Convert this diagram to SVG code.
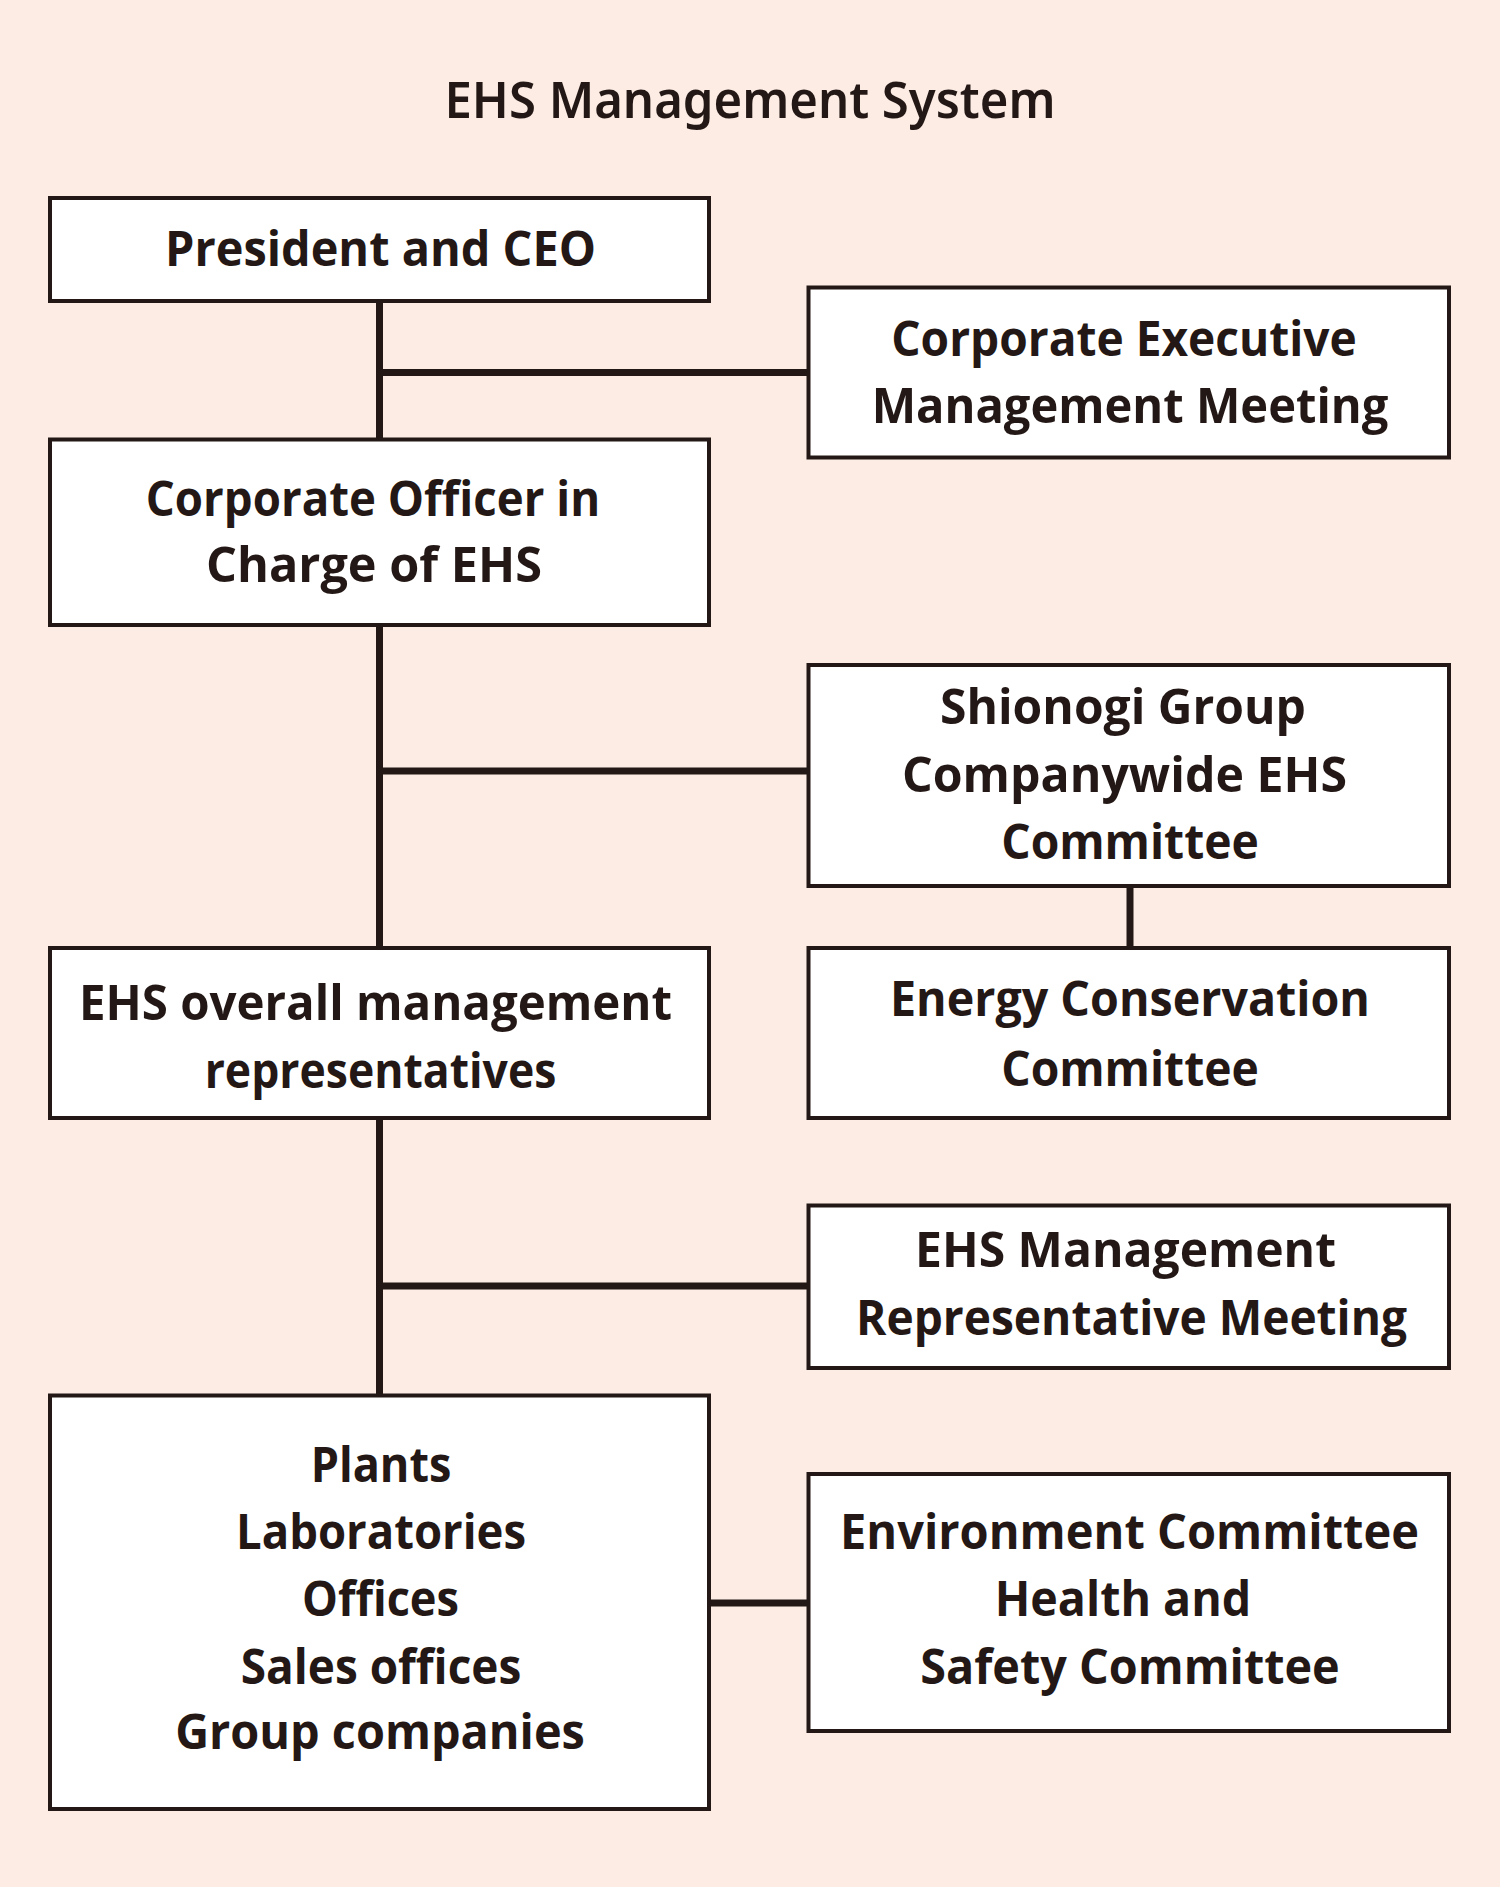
<svg xmlns="http://www.w3.org/2000/svg" width="1500" height="1887" viewBox="0 0 1500 1887">
<style>
.bg{fill:#FDECE4}
.box{fill:#FFFFFF;stroke:#231815;stroke-width:4}
.ln{stroke:#231815;stroke-width:7;fill:none;stroke-linecap:butt}
.t{font-family:"Open Sans","Noto Sans","Liberation Sans",sans-serif;font-weight:700;font-size:49px;fill:#231815;text-anchor:middle}
.title{font-family:"Noto Sans","Open Sans","Liberation Sans",sans-serif;font-weight:600;font-size:50px;fill:#231815;text-anchor:middle}
</style>
<rect class="bg" x="0" y="0" width="1500" height="1887"/>
<text class="title" x="750" y="118" textLength="611" lengthAdjust="spacingAndGlyphs">EHS Management System</text>
<g id="connectors">
<line class="ln" x1="379.5" y1="300" x2="379.5" y2="440"/>
<line class="ln" x1="379.5" y1="372.5" x2="809" y2="372.5"/>
<line class="ln" x1="379.5" y1="624" x2="379.5" y2="949"/>
<line class="ln" x1="379.5" y1="771" x2="809" y2="771"/>
<line class="ln" x1="379.5" y1="1117" x2="379.5" y2="1396"/>
<line class="ln" x1="379.5" y1="1286" x2="809" y2="1286"/>
<line class="ln" x1="1130" y1="885" x2="1130" y2="949"/>
<line class="ln" x1="709" y1="1603" x2="809" y2="1603" stroke-width="7.5"/>
</g>
<g id="president">
<rect class="box" x="50" y="198" width="659" height="103"/>
<text class="t" x="380.5" y="265.5" textLength="431" lengthAdjust="spacingAndGlyphs">President and CEO</text>
</g>
<g id="exec-meeting">
<rect class="box" x="808.5" y="287.5" width="640.5" height="170"/>
<text class="t" x="1124" y="356" textLength="465.5" lengthAdjust="spacingAndGlyphs">Corporate Executive</text>
<text class="t" x="1130" y="423" textLength="516.7" lengthAdjust="spacingAndGlyphs">Management Meeting</text>
</g>
<g id="officer">
<rect class="box" x="50" y="439.5" width="659" height="185.5"/>
<text class="t" x="373" y="516" textLength="454.5" lengthAdjust="spacingAndGlyphs">Corporate Officer in</text>
<text class="t" x="374" y="582" textLength="336" lengthAdjust="spacingAndGlyphs">Charge of EHS</text>
</g>
<g id="shionogi-committee">
<rect class="box" x="808.5" y="665" width="640.5" height="221"/>
<text class="t" x="1123" y="724" textLength="366" lengthAdjust="spacingAndGlyphs">Shionogi Group</text>
<text class="t" x="1124.5" y="792" textLength="445" lengthAdjust="spacingAndGlyphs">Companywide EHS</text>
<text class="t" x="1130" y="859" textLength="257.6" lengthAdjust="spacingAndGlyphs">Committee</text>
</g>
<g id="overall-reps">
<rect class="box" x="50" y="948" width="659" height="170"/>
<text class="t" x="375.5" y="1019.5" textLength="593" lengthAdjust="spacingAndGlyphs">EHS overall management</text>
<text class="t" x="380.5" y="1088" textLength="351.7" lengthAdjust="spacingAndGlyphs">representatives</text>
</g>
<g id="energy-committee">
<rect class="box" x="808.5" y="948" width="640.5" height="170"/>
<text class="t" x="1130" y="1016" textLength="480" lengthAdjust="spacingAndGlyphs">Energy Conservation</text>
<text class="t" x="1130" y="1086" textLength="257.6" lengthAdjust="spacingAndGlyphs">Committee</text>
</g>
<g id="rep-meeting">
<rect class="box" x="808.5" y="1205.5" width="640.5" height="162.5"/>
<text class="t" x="1125.5" y="1266.7" textLength="421" lengthAdjust="spacingAndGlyphs">EHS Management</text>
<text class="t" x="1131.5" y="1335" textLength="551" lengthAdjust="spacingAndGlyphs">Representative Meeting</text>
</g>
<g id="sites">
<rect class="box" x="50" y="1395.5" width="659" height="413.5"/>
<text class="t" x="381" y="1482" textLength="140.7" lengthAdjust="spacingAndGlyphs">Plants</text>
<text class="t" x="381" y="1549" textLength="290" lengthAdjust="spacingAndGlyphs">Laboratories</text>
<text class="t" x="380.5" y="1616" textLength="157" lengthAdjust="spacingAndGlyphs">Offices</text>
<text class="t" x="381" y="1684" textLength="280.5" lengthAdjust="spacingAndGlyphs">Sales offices</text>
<text class="t" x="380" y="1749" textLength="409.7" lengthAdjust="spacingAndGlyphs">Group companies</text>
</g>
<g id="env-health-committees">
<rect class="box" x="808.5" y="1474" width="640.5" height="257"/>
<text class="t" x="1129.5" y="1549" textLength="579" lengthAdjust="spacingAndGlyphs">Environment Committee</text>
<text class="t" x="1123" y="1616" textLength="256.6" lengthAdjust="spacingAndGlyphs">Health and</text>
<text class="t" x="1130" y="1684" textLength="419.5" lengthAdjust="spacingAndGlyphs">Safety Committee</text>
</g>
</svg>
